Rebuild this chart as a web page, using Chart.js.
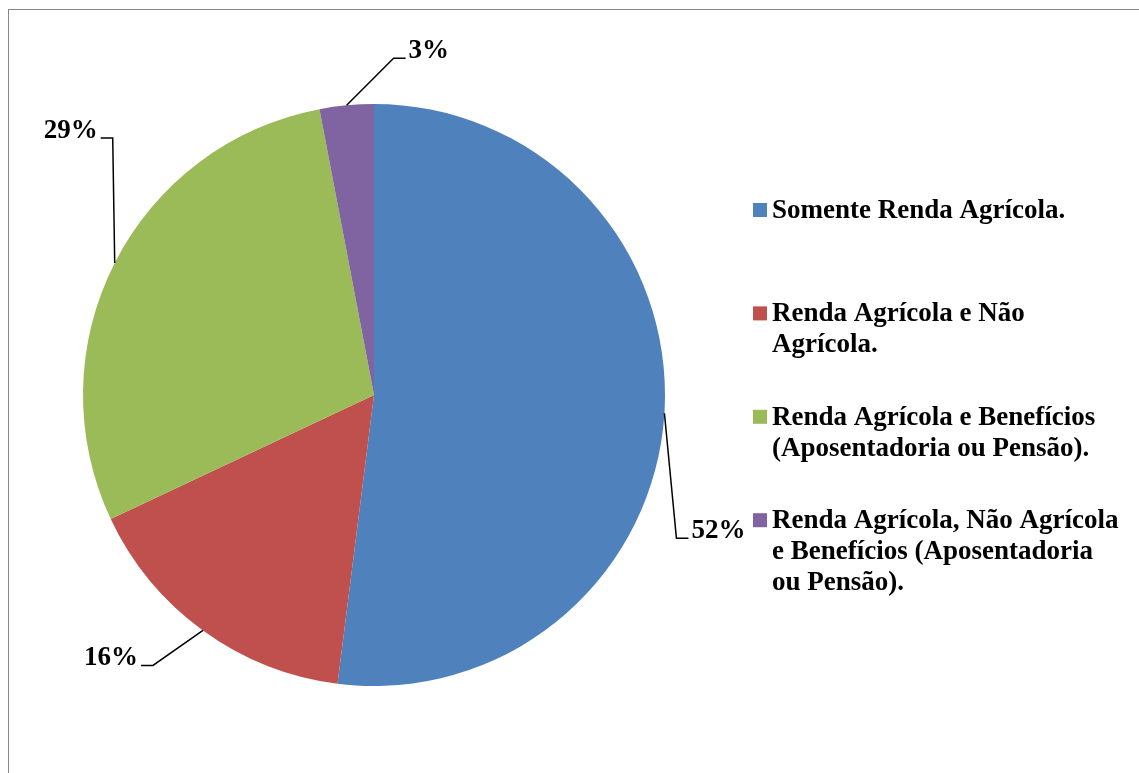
<!DOCTYPE html>
<html lang="pt">
<head>
<meta charset="utf-8">
<title>Composição da renda</title>
<script src="https://cdn.jsdelivr.net/npm/chart.js@4.4.1/dist/chart.umd.min.js"></script>
<style>
  html, body { margin: 0; padding: 0; background: #fff; }
  #wrap { position: relative; width: 1139px; height: 773px; overflow: hidden; }
  #frame {
    position: absolute; left: 8px; top: 9px; width: 1200px; height: 800px;
    border-top: 1px solid #878787; border-left: 1px solid #878787;
  }
  #rendaChart { position: absolute; left: 0; top: 0; }
</style>
</head>
<body>
<div id="wrap">
  <div id="frame"></div>
  <canvas id="rendaChart" width="1139" height="773"></canvas>
</div>
<script>
// categorias (quebradas em linhas como aparecem na legenda)
const categorias = [
  ["Somente Renda Agrícola."],
  ["Renda Agrícola e Não", "Agrícola."],
  ["Renda Agrícola e Benefícios", "(Aposentadoria ou Pensão)."],
  ["Renda Agrícola, Não Agrícola", "e Benefícios (Aposentadoria", "ou Pensão)."]
];
const percentuais = [52, 16, 29, 3];
const cores = ["#4F81BD", "#C0504D", "#9BBB59", "#8064A2"];

const fonte = "bold 27px 'Liberation Serif', 'Times New Roman', serif";

// rótulos com linha de chamada: deslocamento do cotovelo a partir da borda da fatia
const chamadas = [
  { dx: 12, dy: 125 },
  { dx: -50, dy: 35 },
  { dx: -2, dy: -125 },
  { dx: 47, dy: -47 }
];

const rotulosPlugin = {
  id: "rotulos",
  afterDatasetsDraw(chart) {
    const ctx = chart.ctx;
    const arcs = chart.getDatasetMeta(0).data;
    ctx.save();
    ctx.font = fonte;
    ctx.fillStyle = "#000";
    ctx.strokeStyle = "#000";
    ctx.lineWidth = 1.5;
    ctx.textBaseline = "alphabetic";
    arcs.forEach((arc, i) => {
      const { x, y, startAngle, endAngle, outerRadius } = arc.getProps(["x", "y", "startAngle", "endAngle", "outerRadius"]);
      const mid = (startAngle + endAngle) / 2;
      const ax = x + Math.cos(mid) * outerRadius;
      const ay = y + Math.sin(mid) * outerRadius;
      const ex = ax + chamadas[i].dx;
      const ey = ay + chamadas[i].dy;
      const dir = ex >= x ? 1 : -1;
      const hx = ex + dir * 12;
      ctx.beginPath();
      ctx.moveTo(ax, ay);
      ctx.lineTo(ex, ey);
      ctx.lineTo(hx, ey);
      ctx.stroke();
      ctx.textAlign = dir > 0 ? "left" : "right";
      ctx.fillText(percentuais[i] + "%", hx + dir * 3, ey);
    });
    ctx.restore();
  }
};

// legenda desenhada à direita do gráfico
const legendaPlugin = {
  id: "legendaLateral",
  afterDraw(chart) {
    const ctx = chart.ctx;
    const x0 = 753, base0 = 218, passo = 103.4, entre = 31;
    ctx.save();
    ctx.font = fonte;
    ctx.textAlign = "left";
    ctx.textBaseline = "alphabetic";
    categorias.forEach((linhas, i) => {
      const base = base0 + i * passo;
      ctx.fillStyle = cores[i];
      ctx.fillRect(x0, base - 15, 14, 14);
      ctx.fillStyle = "#000";
      linhas.forEach((t, j) => ctx.fillText(t, x0 + 19, base + j * entre));
    });
    ctx.restore();
  }
};

new Chart(document.getElementById("rendaChart"), {
  type: "pie",
  data: {
    labels: categorias.map(l => l.join(" ")),
    datasets: [{
      data: percentuais,
      backgroundColor: cores,
      borderWidth: 0
    }]
  },
  options: {
    responsive: false,
    animation: false,
    layout: { padding: { left: 83, top: 104, right: 474, bottom: 87 } },
    plugins: {
      legend: { display: false },
      tooltip: { enabled: false }
    }
  },
  plugins: [rotulosPlugin, legendaPlugin]
});
</script>
</body>
</html>
